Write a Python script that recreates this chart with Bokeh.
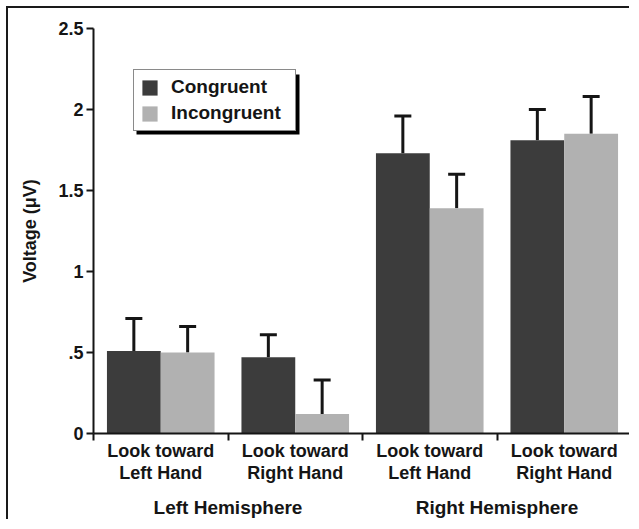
import numpy as np
from bokeh.plotting import figure
from bokeh.models import (ColumnDataSource, Whisker, TeeHead, Legend, LegendItem,
                          FixedTicker, BoxAnnotation, Range1d, LinearAxis)
from bokeh.embed import file_html
from bokeh.resources import INLINE

# ---- data ----
looks = ["Look toward\nLeft Hand", "Look toward\nRight Hand",
         "Look toward\nLeft Hand", "Look toward\nRight Hand"]
hemispheres = ["Left Hemisphere", "Right Hemisphere"]
congruent = [0.51, 0.47, 1.73, 1.81]
congruent_err = [0.20, 0.14, 0.23, 0.19]
incongruent = [0.50, 0.12, 1.39, 1.85]
incongruent_err = [0.16, 0.21, 0.21, 0.23]
y_ticks = [0, 0.5, 1, 1.5, 2, 2.5]
y_tick_labels = ["0", ".5", "1", "1.5", "2", "2.5"]

FONT = "Liberation Sans"
DARK = "#3c3c3c"
LIGHT = "#b1b1b1"
INK = "#151515"

n = len(looks)
idx = np.arange(n)
x_c = idx + 0.3
x_i = idx + 0.7

p = figure(width=623, height=513, output_backend="svg", toolbar_location=None,
           x_range=Range1d(0, n), y_range=Range1d(0, 2.5),
           min_border_left=85, min_border_right=0, min_border_top=20,
           min_border_bottom=88, x_axis_location=None)
p.styles = {"border-top": "2px solid #1a1a1a", "border-left": "2px solid #1a1a1a",
            "margin-top": "6px", "margin-left": "6px"}
p.outline_line_color = None
p.grid.visible = False
p.background_fill_color = "white"
p.border_fill_color = "white"

src_c = ColumnDataSource(dict(x=x_c, top=congruent,
                              upper=np.array(congruent) + np.array(congruent_err)))
src_i = ColumnDataSource(dict(x=x_i, top=incongruent,
                              upper=np.array(incongruent) + np.array(incongruent_err)))

r_c = p.vbar(x="x", top="top", width=0.4, bottom=0, source=src_c,
             fill_color=DARK, line_color=None)
r_i = p.vbar(x="x", top="top", width=0.4, bottom=0, source=src_i,
             fill_color=LIGHT, line_color=None)

for src in (src_c, src_i):
    w = Whisker(base="x", lower="top", upper="upper", source=src, dimension="height",
                line_color=INK, line_width=3,
                upper_head=TeeHead(size=17, line_width=3, line_color=INK),
                lower_head=None)
    p.add_layout(w)

# y axis
ya = p.yaxis[0]
ya.ticker = FixedTicker(ticks=y_ticks)
ya.major_label_overrides = {t: l for t, l in zip(y_ticks, y_tick_labels)}
ya.minor_tick_line_color = None
ya.major_tick_in = 0
ya.major_tick_out = 7
ya.major_tick_line_width = 2
ya.major_tick_line_color = INK
ya.axis_line_width = 2
ya.axis_line_color = INK
ya.major_label_standoff = 3
ya.major_label_text_font = FONT
ya.major_label_text_font_style = "bold"
ya.major_label_text_font_size = "18px"
ya.major_label_text_color = INK
ya.axis_label = "Voltage (μV)"
ya.axis_label_text_font = FONT
ya.axis_label_text_font_style = "bold"
ya.axis_label_text_font_size = "18px"
ya.axis_label_text_color = INK
ya.axis_label_standoff = 15

# x axis: boundary tick marks (minor) + category labels at group centres (major)
centres = list(idx + 0.5)
xa = LinearAxis(ticker=FixedTicker(ticks=centres, minor_ticks=list(range(n + 1))),
                major_label_overrides={c: l for c, l in zip(centres, looks)},
                major_tick_in=0, major_tick_out=0, major_tick_line_color=None,
                minor_tick_in=0, minor_tick_out=7, minor_tick_line_width=2,
                minor_tick_line_color=INK,
                axis_line_width=2, axis_line_color=INK,
                major_label_standoff=0,
                major_label_text_font=FONT, major_label_text_font_style="bold",
                major_label_text_font_size="18px", major_label_text_color=INK,
                major_label_text_line_height=1.1)
p.add_layout(xa, "below")

hem_ticks = [1, 3]
ha = LinearAxis(ticker=FixedTicker(ticks=hem_ticks, minor_ticks=[]),
                major_label_overrides={t: h for t, h in zip(hem_ticks, hemispheres)},
                axis_line_color=None, major_tick_line_color=None,
                minor_tick_line_color=None, major_tick_in=0, major_tick_out=0,
                major_label_standoff=11,
                major_label_text_font=FONT, major_label_text_font_style="bold",
                major_label_text_font_size="19px", major_label_text_color=INK)
p.add_layout(ha, "below")

# legend shadow + legend
shadow = BoxAnnotation(left=43, right=206, bottom=299, top=359,
                       left_units="screen", right_units="screen",
                       bottom_units="screen", top_units="screen",
                       fill_color="black", fill_alpha=1.0, line_color=None)
p.add_layout(shadow)

legend = Legend(items=[LegendItem(label="Congruent", renderers=[r_c]),
                       LegendItem(label="Incongruent", renderers=[r_i])],
                location=(40, 302), orientation="vertical",
                glyph_width=19, glyph_height=19, label_height=19, label_width=118,
                label_standoff=12, spacing=4, padding=6, margin=0,
                border_line_color=INK, border_line_width=1.5,
                background_fill_color="white", background_fill_alpha=1.0,
                label_text_font=FONT, label_text_font_style="bold",
                label_text_font_size="19px", label_text_color=INK)
p.add_layout(legend, "center")

open("out.html", "w").write(file_html(p, INLINE))
